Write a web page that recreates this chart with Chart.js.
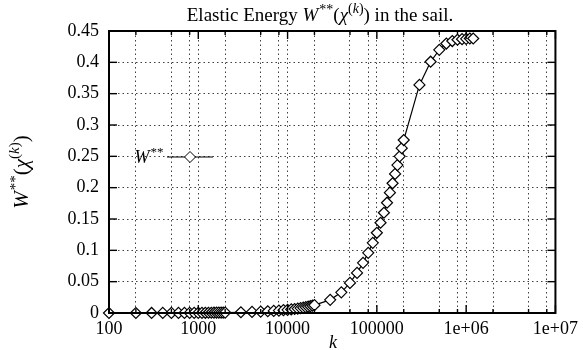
<!DOCTYPE html>
<html>
<head>
<meta charset="utf-8">
<script src="https://cdn.jsdelivr.net/npm/chart.js@4.4.0/dist/chart.umd.min.js"></script>
<style>
  html, body { margin: 0; padding: 0; background: #fff; }
  #wrap { width: 583px; height: 350px; }
</style>
</head>
<body>
<div id="wrap"><canvas id="energy-chart" width="583" height="350"></canvas></div>
<script>
// iteration count k and the elastic energy
const kValues = [
  100, 200, 300, 400, 500, 600, 700, 800, 900, 1000,
  1100, 1200, 1300, 1400, 1500, 1600, 1700, 1800, 1900, 2000,
  3000, 4000, 5000, 6000, 7000, 8000, 9000, 10000, 11000, 12000,
  13000, 14000, 15000, 16000, 17000, 18000, 19000, 20000,
  30000, 40000, 50000, 60000, 70000, 80000, 90000, 100000, 110000, 120000,
  130000, 140000, 150000, 160000, 170000, 180000, 190000, 200000,
  300000, 400000, 500000, 600000, 700000, 800000, 900000, 1000000, 1100000, 1200000
];
const energy = [
  0.00001, 0.00003, 0.00005, 0.00008, 0.0001, 0.00013, 0.00016, 0.0002, 0.00023, 0.00027,
  0.0003, 0.00034, 0.00038, 0.00042, 0.00046, 0.0005, 0.00055, 0.0006, 0.00065, 0.0007,
  0.0012, 0.0017, 0.0022, 0.0028, 0.0033, 0.0039, 0.0045, 0.0051, 0.0057, 0.0064,
  0.0071, 0.0078, 0.0085, 0.0093, 0.0101, 0.0109, 0.0117, 0.0125,
  0.021, 0.033, 0.048, 0.064, 0.080, 0.096, 0.112, 0.128, 0.144, 0.160,
  0.176, 0.192, 0.207, 0.222, 0.236, 0.250, 0.263, 0.276,
  0.364, 0.401, 0.420, 0.430, 0.434, 0.436, 0.437, 0.4375, 0.438, 0.438
];

const xTickValues = [100, 1000, 10000, 100000, 1000000, 10000000];
const xTickLabels = ["100", "1000", "10000", "100000", "1e+06", "1e+07"];
const xMinorValues = [200, 500, 800, 2000, 5000, 8000, 20000, 50000, 80000,
  200000, 500000, 800000, 2000000, 5000000, 8000000];
const yTickValues = [0, 0.05, 0.1, 0.15, 0.2, 0.25, 0.3, 0.35, 0.4, 0.45];
const yTickLabels = ["0", "0.05", "0.1", "0.15", "0.2", "0.25", "0.3", "0.35", "0.4", "0.45"];

const serif = '"Liberation Serif", "DejaVu Serif", serif';
const gridDots = 'rgba(0,0,0,0.75)';

function drawRich(ctx, parts, x, y) {
  let total = 0;
  parts.forEach(p => { ctx.font = p.font; p.w = ctx.measureText(p.text).width + (p.gap || 0); total += p.w; });
  let cx = x - total / 2;
  parts.forEach(p => {
    ctx.font = p.font;
    ctx.fillText(p.text, cx + (p.gap || 0), y + (p.dy || 0));
    cx += p.w;
  });
}

function wPart(size) {
  const sm = Math.round(size * 0.72);
  return [
    { text: 'W', font: `italic ${size}px ${serif}` },
    { text: '**', font: `${sm}px ${serif}`, dy: -size * 0.38, gap: 1 },
    { text: '(', font: `${size}px ${serif}` },
    { text: 'χ', font: `italic ${size}px ${serif}` },
    { text: '(', font: `${sm}px ${serif}`, dy: -size * 0.42 },
    { text: 'k', font: `italic ${sm}px ${serif}`, dy: -size * 0.42 },
    { text: ')', font: `${sm}px ${serif}`, dy: -size * 0.42 },
    { text: ')', font: `${size}px ${serif}` }
  ];
}

function diamond(ctx, x, y, r) {
  ctx.beginPath();
  ctx.moveTo(x, y - r);
  ctx.lineTo(x + r, y);
  ctx.lineTo(x, y + r);
  ctx.lineTo(x - r, y);
  ctx.closePath();
  ctx.fillStyle = '#fff';
  ctx.fill();
  ctx.stroke();
}

const decorations = {
  id: 'decorations',
  afterDraw(chart) {
    const ctx = chart.ctx;
    const { left, right, top, bottom } = chart.chartArea;
    const xs = chart.scales.x, ys = chart.scales.y;
    ctx.save();
    ctx.strokeStyle = '#000';
    ctx.fillStyle = '#000';

    // frame
    ctx.lineWidth = 2;
    ctx.strokeRect(left, top, right - left, bottom - top);

    // inward tick marks
    const tick = (x1, y1, x2, y2) => { ctx.beginPath(); ctx.moveTo(x1, y1); ctx.lineTo(x2, y2); ctx.stroke(); };
    ctx.lineWidth = 1.4;
    xTickValues.forEach(v => {
      const px = xs.getPixelForValue(v);
      tick(px, bottom, px, bottom - 8);
      tick(px, top, px, top + 8);
    });
    xMinorValues.forEach(v => {
      const px = xs.getPixelForValue(v);
      tick(px, bottom, px, bottom - 4);
      tick(px, top, px, top + 4);
    });
    yTickValues.forEach(v => {
      const py = ys.getPixelForValue(v);
      tick(left, py, left + 8, py);
      tick(right, py, right - 8, py);
    });

    // title
    ctx.textBaseline = 'alphabetic';
    ctx.fillStyle = '#000';
    drawRich(ctx, [{ text: 'Elastic Energy ', font: `19px ${serif}` }]
      .concat(wPart(19))
      .concat([{ text: ' in the sail.', font: `19px ${serif}` }]), 320, 21);

    // x axis title
    ctx.font = `italic 18px ${serif}`;
    ctx.textAlign = 'center';
    ctx.fillText('k', 333, 348);
    ctx.textAlign = 'left';

    // y axis title
    ctx.save();
    ctx.translate(28, 172);
    ctx.rotate(-Math.PI / 2);
    drawRich(ctx, wPart(21), 0, 0);
    ctx.restore();

    // legend
    const ly = 157;
    drawRich(ctx, [
      { text: 'W', font: `italic 18px ${serif}` },
      { text: '**', font: `13px ${serif}`, dy: -7, gap: 1 }
    ], 149, ly + 6);
    ctx.lineWidth = 1;
    tick(167, ly, 213, ly);
    diamond(ctx, 190, ly, 5.5);

    ctx.restore();
  }
};

new Chart(document.getElementById("energy-chart"), {
  type: 'line',
  data: {
    datasets: [
      {
        label: "W**",
        data: kValues.map((k, i) => ({ x: k, y: energy[i] })),
        borderColor: "#000",
        borderWidth: 1.2,
        pointStyle: 'rectRot',
        pointRadius: 5.5,
        pointBorderWidth: 1.2,
        pointBorderColor: "#000",
        pointBackgroundColor: "#fff",
        tension: 0,
        clip: false
      }
    ]
  },
  options: {
    responsive: false,
    animation: false,
    devicePixelRatio: 1,
    layout: { padding: { top: 31, right: 25, left: 0, bottom: 0 } },
    plugins: {
      legend: { display: false },
      title: { display: false },
      tooltip: { enabled: false }
    },
    scales: {
      x: {
        type: 'logarithmic',
        min: 100,
        max: 10000000,
        afterBuildTicks: scale => {
          scale.ticks = xTickValues.concat(xMinorValues)
            .sort((a, b) => a - b)
            .map(v => ({ value: v }));
        },
        afterFit: scale => { scale.height = 37; },
        ticks: {
          autoSkip: false,
          maxRotation: 0,
          padding: 5,
          color: '#000',
          font: { family: serif, size: 18 },
          callback: value => {
            const i = xTickValues.indexOf(value);
            return i >= 0 ? xTickLabels[i] : '';
          }
        },
        grid: { color: gridDots, lineWidth: 1, drawTicks: false },
        border: { display: false, dash: [1.5, 3] }
      },
      y: {
        type: 'linear',
        min: 0,
        max: 0.45,
        afterBuildTicks: scale => {
          scale.ticks = yTickValues.map(v => ({ value: v }));
        },
        afterFit: scale => { scale.width = 109; },
        ticks: {
          padding: 10,
          color: '#000',
          font: { family: serif, size: 18 },
          callback: (value, index) => yTickLabels[index]
        },
        grid: { color: gridDots, lineWidth: 1, drawTicks: false },
        border: { display: false, dash: [1.5, 3] }
      }
    }
  },
  plugins: [decorations]
});
</script>
</body>
</html>
